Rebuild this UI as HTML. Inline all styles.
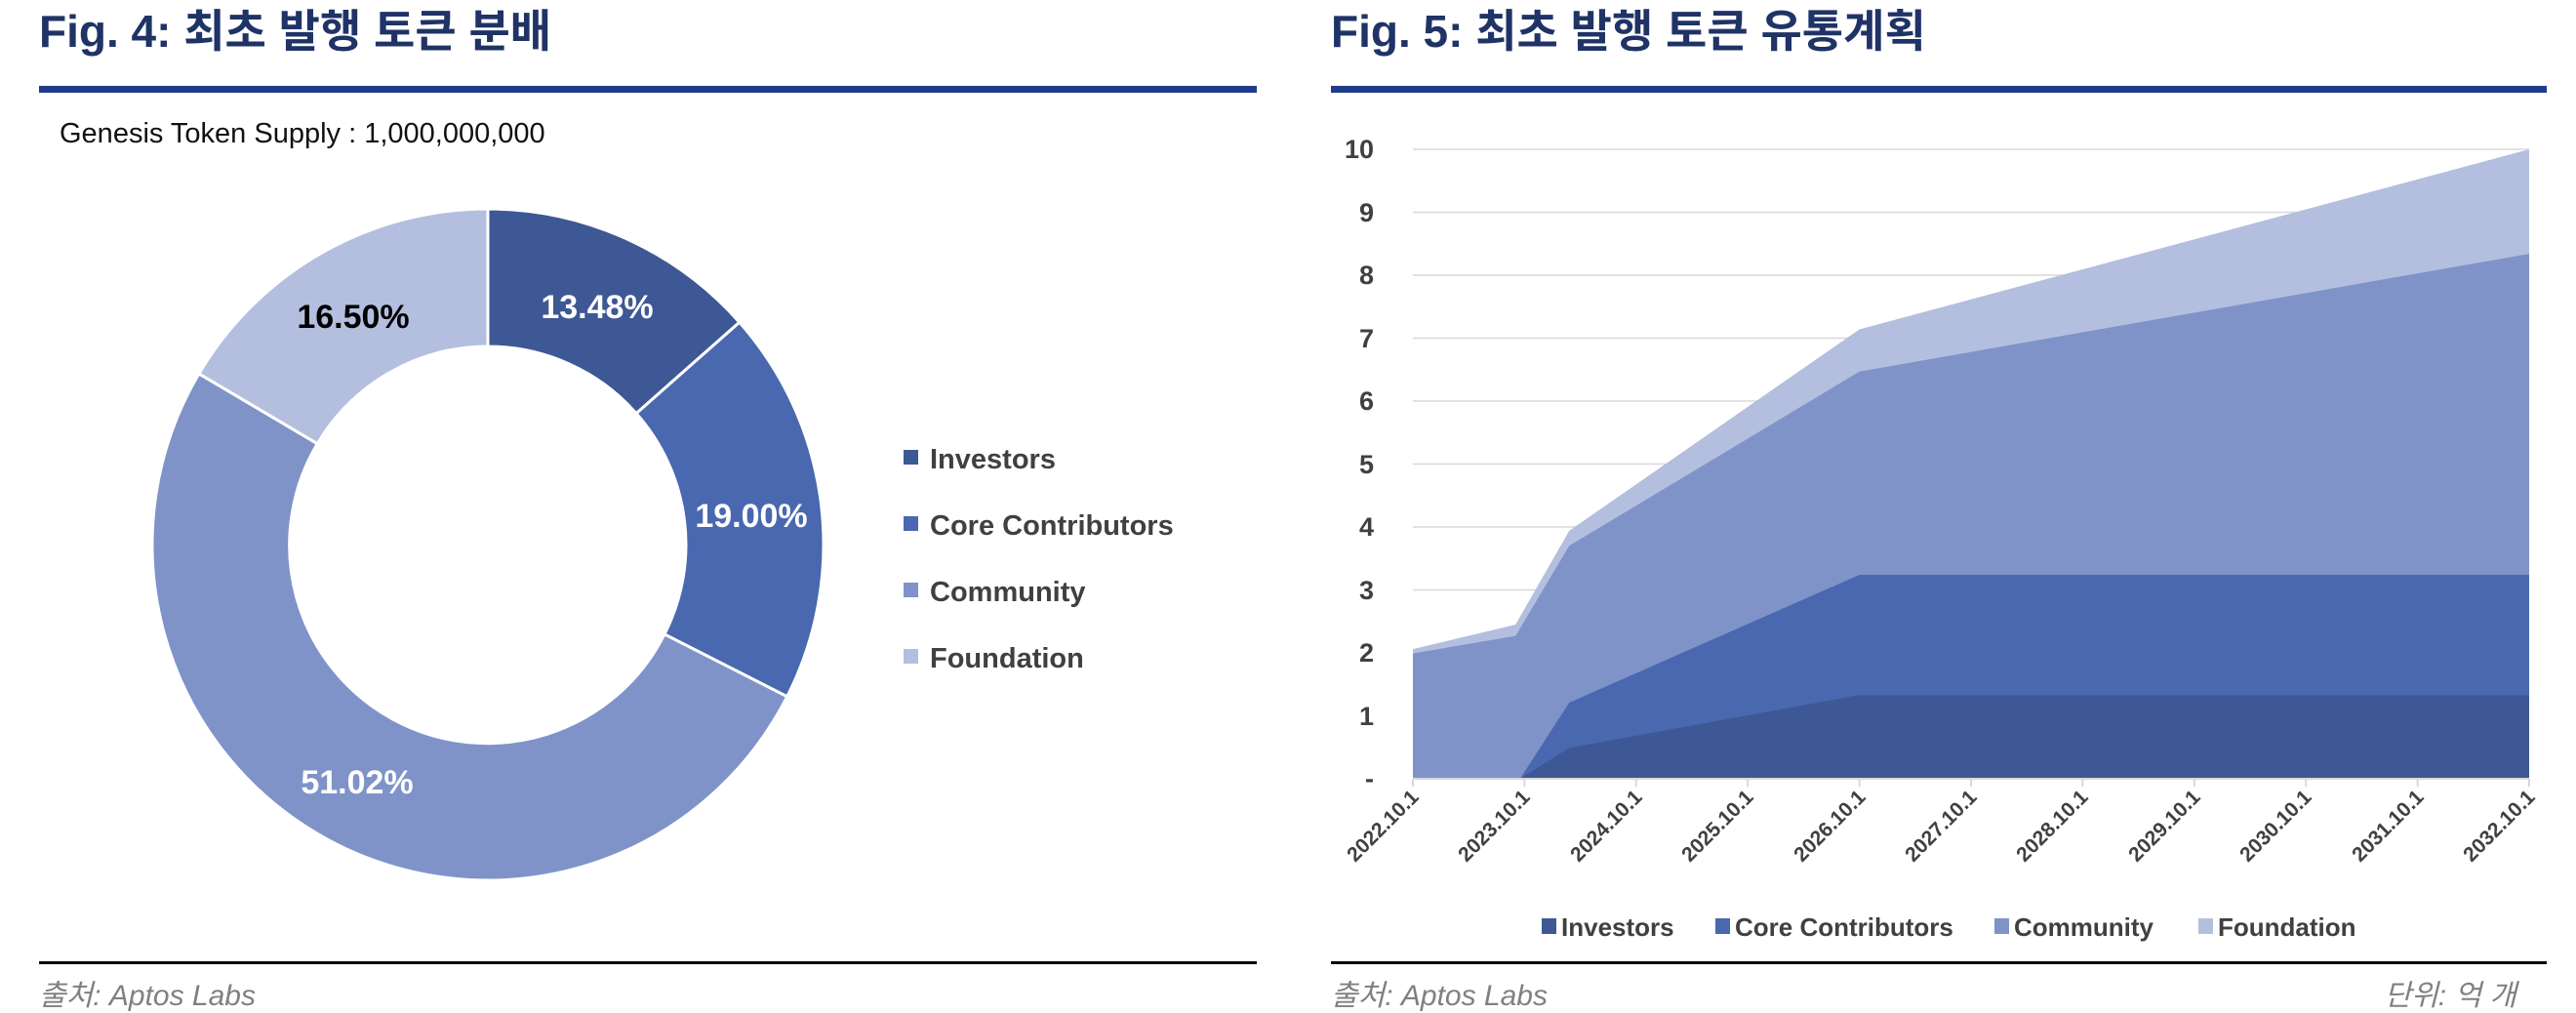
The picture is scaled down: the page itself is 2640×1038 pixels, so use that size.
<!DOCTYPE html>
<html><head><meta charset="utf-8"><style>
html,body{margin:0;padding:0;background:#fff}
svg{display:block}
text{font-family:"Liberation Sans","Noto Sans CJK KR",sans-serif}
</style></head><body>
<svg width="2640" height="1038" viewBox="0 0 2640 1038" xmlns="http://www.w3.org/2000/svg">
<!-- Left panel -->
<text x="40" y="48" font-size="46" font-weight="bold" fill="#1f3366">Fig. 4: 최초 발행 토큰 분배</text>
<rect x="40" y="88" width="1248" height="7" fill="#1f3c88"/>
<text x="61" y="146" font-size="29" fill="#111">Genesis Token Supply : 1,000,000,000</text>
<g stroke="#fff" stroke-width="3">
<path d="M500,214 A344,344 0 0 1 757.8,330.2 L652.1,423.6 A203,203 0 0 0 500,355 Z" fill="#3d5894"/>
<path d="M757.8,330.2 A344,344 0 0 1 806.7,713.8 L681,649.9 A203,203 0 0 0 652.1,423.6 Z" fill="#4968b0"/>
<path d="M806.7,713.8 A344,344 0 1 1 203.9,382.9 L325.3,454.7 A203,203 0 1 0 681,649.9 Z" fill="#7f93c9"/>
<path d="M203.9,382.9 A344,344 0 0 1 500,214 L500,355 A203,203 0 0 0 325.3,454.7 Z" fill="#b4bfdf"/>
</g>
<g font-size="34" font-weight="bold" text-anchor="middle">
<text x="612" y="326" fill="#fff">13.48%</text>
<text x="770" y="540" fill="#fff">19.00%</text>
<text x="366" y="813" fill="#fff">51.02%</text>
<text x="362" y="336" fill="#000">16.50%</text>
</g>
<g font-size="29" font-weight="bold" fill="#404040">
<rect x="926" y="461" width="15" height="15" fill="#3d5894"/><text x="953" y="480">Investors</text>
<rect x="926" y="529" width="15" height="15" fill="#4968b0"/><text x="953" y="548">Core Contributors</text>
<rect x="926" y="597" width="15" height="15" fill="#7f93c9"/><text x="953" y="616">Community</text>
<rect x="926" y="665" width="15" height="15" fill="#b4bfdf"/><text x="953" y="684">Foundation</text>
</g>
<rect x="40" y="985" width="1248" height="3" fill="#000"/>
<text x="40" y="1030" font-size="30" font-style="italic" fill="#808080">출처: Aptos Labs</text>

<!-- Right panel -->
<text x="1364" y="48" font-size="46" font-weight="bold" fill="#1f3366">Fig. 5: 최초 발행 토큰 유통계획</text>
<rect x="1364" y="88" width="1246" height="7" fill="#1f3c88"/>
<g stroke="#d9d9d9" stroke-width="1.5">
<line x1="1448" x2="2592" y1="733.5" y2="733.5"/><line x1="1448" x2="2592" y1="669" y2="669"/>
<line x1="1448" x2="2592" y1="604.5" y2="604.5"/><line x1="1448" x2="2592" y1="540" y2="540"/>
<line x1="1448" x2="2592" y1="475.5" y2="475.5"/><line x1="1448" x2="2592" y1="411" y2="411"/>
<line x1="1448" x2="2592" y1="346.5" y2="346.5"/><line x1="1448" x2="2592" y1="282" y2="282"/>
<line x1="1448" x2="2592" y1="217.5" y2="217.5"/><line x1="1448" x2="2592" y1="153" y2="153"/>
</g>
<polygon fill="#b4bfdf" points="1448,798 1448,665.1 1553.2,640 1608.2,543.9 1905.6,337.5 2592,153 2592,798"/>
<polygon fill="#7f93c9" points="1448,798 1448,669.6 1553.2,651.6 1608.2,559.3 1905.6,380.7 2592,260.1 2592,798"/>
<polygon fill="#4968b0" points="1557.8,798 1608.2,720 1905.6,589 2592,589 2592,798"/>
<polygon fill="#3d5894" points="1557.8,798 1608.2,766.4 1905.6,712.2 2592,712.2 2592,798"/>
<line x1="1448" x2="2592" y1="798" y2="798" stroke="#d9d9d9" stroke-width="2"/>
<g stroke="#d9d9d9" stroke-width="2">
<line x1="1448" x2="1448" y1="798" y2="806"/><line x1="1562.4" x2="1562.4" y1="798" y2="806"/>
<line x1="1676.8" x2="1676.8" y1="798" y2="806"/><line x1="1791.2" x2="1791.2" y1="798" y2="806"/>
<line x1="1905.6" x2="1905.6" y1="798" y2="806"/><line x1="2020" x2="2020" y1="798" y2="806"/>
<line x1="2134.4" x2="2134.4" y1="798" y2="806"/><line x1="2248.8" x2="2248.8" y1="798" y2="806"/>
<line x1="2363.2" x2="2363.2" y1="798" y2="806"/><line x1="2477.6" x2="2477.6" y1="798" y2="806"/>
<line x1="2592" x2="2592" y1="798" y2="806"/>
</g>
<g font-size="27" font-weight="bold" fill="#404040" text-anchor="end">
<text x="1408" y="807">-</text><text x="1408" y="743">1</text><text x="1408" y="678">2</text>
<text x="1408" y="614">3</text><text x="1408" y="549">4</text><text x="1408" y="485">5</text>
<text x="1408" y="420">6</text><text x="1408" y="356">7</text><text x="1408" y="291">8</text>
<text x="1408" y="227">9</text><text x="1408" y="162">10</text>
</g>
<g font-size="21" font-weight="bold" fill="#404040" text-anchor="end">
<text transform="translate(1455,818) rotate(-45)">2022.10.1</text>
<text transform="translate(1569,818) rotate(-45)">2023.10.1</text>
<text transform="translate(1684,818) rotate(-45)">2024.10.1</text>
<text transform="translate(1798,818) rotate(-45)">2025.10.1</text>
<text transform="translate(1913,818) rotate(-45)">2026.10.1</text>
<text transform="translate(2027,818) rotate(-45)">2027.10.1</text>
<text transform="translate(2141,818) rotate(-45)">2028.10.1</text>
<text transform="translate(2256,818) rotate(-45)">2029.10.1</text>
<text transform="translate(2370,818) rotate(-45)">2030.10.1</text>
<text transform="translate(2485,818) rotate(-45)">2031.10.1</text>
<text transform="translate(2599,818) rotate(-45)">2032.10.1</text>
</g>
<g font-size="26" font-weight="bold" fill="#404040">
<rect x="1580" y="941" width="15" height="16" fill="#3d5894"/><text x="1600" y="959">Investors</text>
<rect x="1758" y="941" width="15" height="16" fill="#4968b0"/><text x="1778" y="959">Core Contributors</text>
<rect x="2044" y="941" width="15" height="16" fill="#7f93c9"/><text x="2064" y="959">Community</text>
<rect x="2253" y="941" width="15" height="16" fill="#b4bfdf"/><text x="2273" y="959">Foundation</text>
</g>
<rect x="1364" y="985" width="1246" height="3" fill="#000"/>
<text x="1364" y="1030" font-size="30" font-style="italic" fill="#808080">출처: Aptos Labs</text>
<text x="2579" y="1030" font-size="30" font-style="italic" fill="#808080" text-anchor="end">단위: 억 개</text>
</svg>
</body></html>
